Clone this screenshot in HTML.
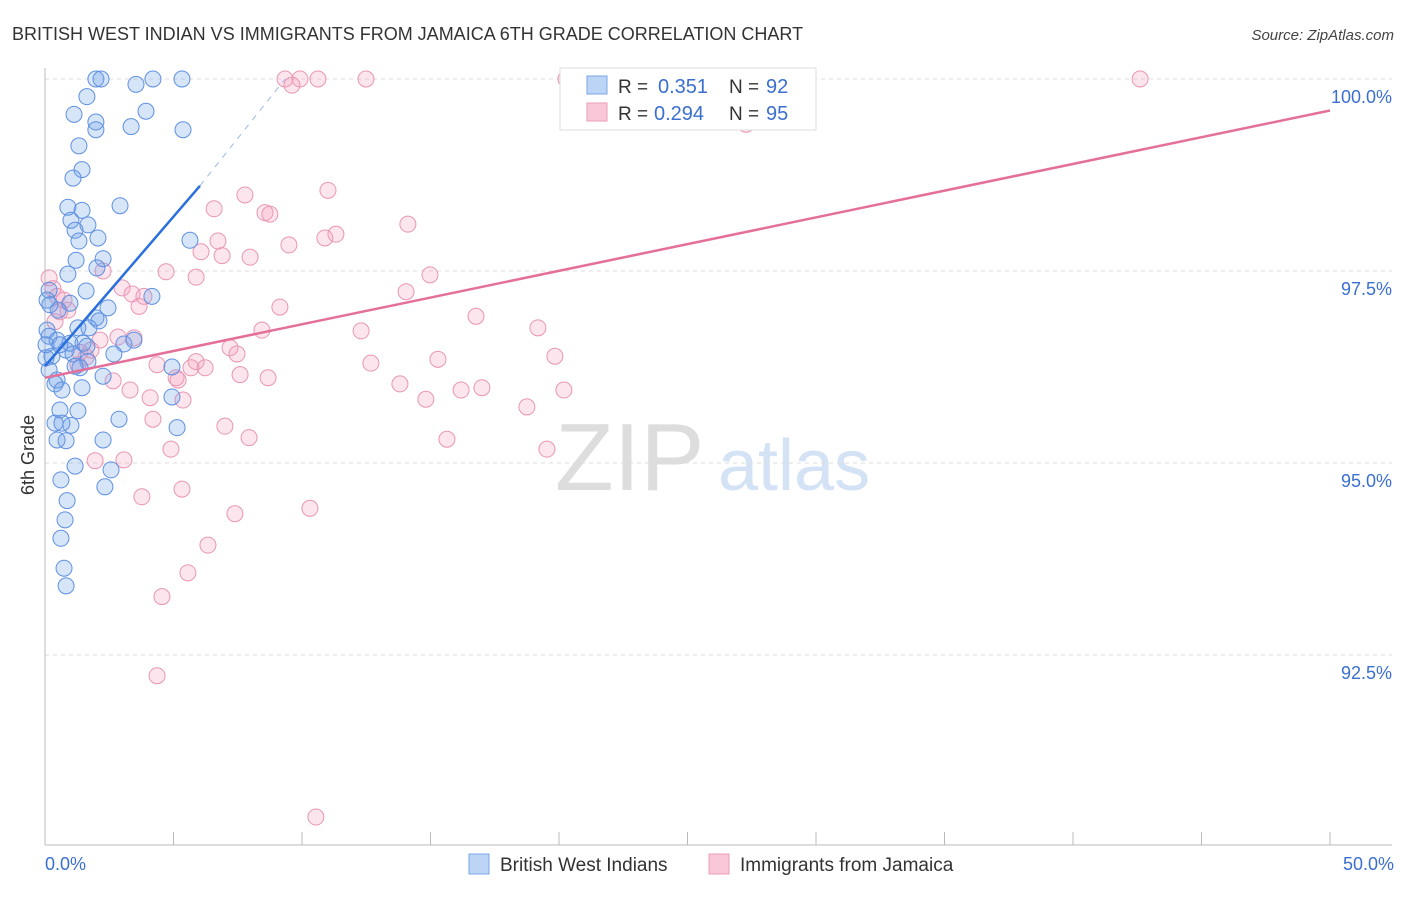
<!DOCTYPE html>
<html><head><meta charset="utf-8"><style>
body{margin:0;background:#fff;font-family:"Liberation Sans",sans-serif}
svg text{font-family:"Liberation Sans",sans-serif}
</style></head><body>
<svg width="1406" height="892" viewBox="0 0 1406 892" xmlns="http://www.w3.org/2000/svg">
<text x="12" y="40" font-size="18" fill="#333">BRITISH WEST INDIAN VS IMMIGRANTS FROM JAMAICA 6TH GRADE CORRELATION CHART</text>
<text x="1394" y="40" font-size="15" fill="#444" text-anchor="end" font-style="italic">Source: ZipAtlas.com</text>
<g><text x="555" y="490" font-size="96" fill="#ddd" font-family="Liberation Serif">ZIP</text><text x="718" y="490" font-size="72" fill="#d4e2f5">atlas</text></g>
<g id="grid"></g><g id="axes"></g><g id="pts"></g><g id="lines"></g>
<text transform="translate(34,455) rotate(-90)" font-size="18" fill="#333" text-anchor="middle">6th Grade</text>
<g>
<rect x="560" y="68" width="256" height="62" fill="#fff" stroke="#ddd"/>
<rect x="587" y="76" width="20" height="18" fill="#bcd4f5" stroke="#7aa7e8"/>
<text x="618" y="93" font-size="19" fill="#333">R =</text><text x="658" y="93" font-size="20" fill="#3a6fd0">0.351</text>
<text x="729" y="93" font-size="19" fill="#333">N =</text><text x="766" y="93" font-size="20" fill="#3a6fd0">92</text>
<rect x="587" y="103" width="20" height="18" fill="#f9c7d7" stroke="#eb9db7"/>
<text x="618" y="120" font-size="19" fill="#333">R =</text><text x="654" y="120" font-size="20" fill="#3a6fd0">0.294</text>
<text x="729" y="120" font-size="19" fill="#333">N =</text><text x="766" y="120" font-size="20" fill="#3a6fd0">95</text>
</g>
<g>
<rect x="469" y="854" width="20" height="20" fill="#bcd4f5" stroke="#7aa7e8"/>
<text x="500" y="871" font-size="19" fill="#333">British West Indians</text>
<rect x="709" y="854" width="20" height="20" fill="#f9c7d7" stroke="#eb9db7"/>
<text x="740" y="871" font-size="19" fill="#333">Immigrants from Jamaica</text>
</g>
</svg>
<script>
const yTicks=[100,97.5,95,92.5];
const yTickLabels=["100.0%","97.5%","95.0%","92.5%"];
const xTickLabels=["0.0%","50.0%"];
const blueX=[1.98,2.18,4.20,5.33,3.54,1.63,1.13,3.93,1.98,1.98,3.35,5.37,1.32,1.44,1.09,2.92,0.89,1.44,1.01,1.67,1.17,2.06,1.32,5.64,2.26,1.21,0.89,2.02,1.60,4.16,0.16,0.97,2.45,0.51,1.98,2.10,0.08,1.71,1.28,0.16,0.47,1.48,0.97,0.82,3.07,3.46,1.63,2.68,1.09,0.04,0.27,1.67,1.36,1.17,0.16,2.26,0.47,0.39,1.44,0.66,4.94,4.94,0.58,1.28,2.88,0.39,1.01,0.66,0.47,0.82,2.26,5.14,1.17,2.57,0.62,2.33,0.86,0.78,0.62,0.74,0.82,0.08,0.19,0.04,0.58];
const blueY=[100,100,100,100,99.93,99.77,99.54,99.58,99.44,99.34,99.38,99.34,99.13,98.82,98.71,98.35,98.33,98.29,98.16,98.10,98.03,97.93,97.89,97.90,97.66,97.64,97.46,97.54,97.24,97.17,97.25,97.08,97.02,96.99,96.89,96.85,96.73,96.76,96.76,96.65,96.60,96.56,96.56,96.47,96.55,96.60,96.52,96.42,96.42,96.37,96.39,96.32,96.24,96.26,96.21,96.13,96.08,96.03,95.98,95.95,96.25,95.86,95.69,95.68,95.57,95.52,95.49,95.52,95.30,95.29,95.30,95.46,94.96,94.91,94.78,94.69,94.51,94.26,94.02,93.63,93.40,97.12,97.06,96.54,96.54];
const pinkX=[9.34,9.92,10.62,12.49,20.27,25.80,42.61,9.61,27.28,7.78,11.01,6.58,8.56,8.75,14.12,11.32,10.89,6.73,9.49,6.07,6.89,7.98,0.16,2.26,4.71,5.88,14.98,3.00,0.31,0.47,3.39,3.85,14.05,3.66,9.14,0.89,0.58,16.77,19.18,8.44,12.30,0.39,2.84,3.46,2.14,7.20,7.47,1.79,1.60,19.84,15.29,4.36,5.88,6.23,5.68,12.68,1.28,5.10,7.59,8.68,2.65,3.31,4.09,5.18,5.37,13.81,16.19,17.00,20.19,14.82,18.75,4.20,7.00,15.64,7.94,19.53,4.90,3.07,1.95,3.77,5.33,10.31,7.39,6.34,5.56,4.55,4.36,10.54,0.74,1.36];
const pinkY=[100,100,100,100,100,100,100,99.92,99.41,98.49,98.55,98.31,98.26,98.24,98.11,97.98,97.93,97.89,97.84,97.75,97.70,97.68,97.41,97.50,97.49,97.42,97.45,97.28,97.27,97.17,97.20,97.17,97.23,97.04,97.03,96.99,96.97,96.91,96.76,96.73,96.72,96.84,96.64,96.63,96.60,96.50,96.42,96.47,96.38,96.39,96.35,96.28,96.32,96.24,96.24,96.30,96.28,96.11,96.15,96.11,96.07,95.95,95.85,96.08,95.82,96.03,95.95,95.98,95.95,95.83,95.73,95.57,95.48,95.31,95.33,95.18,95.18,95.04,95.03,94.56,94.66,94.41,94.34,93.93,93.57,93.26,92.23,90.39,97.12,96.44];
const blueLine=[[0,96.26],[6.03,98.61]];
const blueDash=[[6.03,98.61],[9.34,100]];
const pinkLine=[[0,96.11],[50,99.59]];
const NS="http://www.w3.org/2000/svg";
const sx=v=>45+v*25.7, sy=v=>79+(100-v)*76.8;
function mk(tag,attrs,parent){const e=document.createElementNS(NS,tag);for(const k in attrs)e.setAttribute(k,attrs[k]);document.getElementById(parent).appendChild(e);return e;}
yTicks.forEach((t,i)=>{
 const l=mk('line',{x1:45,x2:1392,y1:sy(t),y2:sy(t),stroke:'#ddd','stroke-dasharray':'4,4'},'grid');
 
 
 const tx=mk('text',{x:1392,y:sy(t)+24,'font-size':18,fill:'#3a6fd0','text-anchor':'end'},'grid');
 tx.textContent=yTickLabels[i];
 
 
});
const ax=mk('line',{x1:45,x2:45,y1:68,y2:845,stroke:'#bbb'},'axes');


const bx=mk('line',{x1:45,x2:1392,y1:845,y2:845,stroke:'#bbb'},'axes');


for(let i=0;i<=10;i++){const t=mk('line',{x1:sx(i*5),x2:sx(i*5),y1:832,y2:845,stroke:'#bbb'},'axes');
 
 }
[[0,'start'],[50,'end']].forEach((p,i)=>{const t=mk('text',{x:i?1394:45,y:870,'font-size':18,fill:'#3a6fd0','text-anchor':p[1]},'axes');t.textContent=xTickLabels[i];
 
 });
pinkX.forEach((x,i)=>{const c=mk('circle',{cx:sx(x),cy:sy(pinkY[i]),r:8,fill:'rgba(243,160,190,0.28)',stroke:'#e996b3','stroke-width':1},'pts');
 
 });
blueX.forEach((x,i)=>{const c=mk('circle',{cx:sx(x),cy:sy(blueY[i]),r:8,fill:'rgba(110,160,235,0.28)',stroke:'#5f90e0','stroke-width':1},'pts');
 
 });
function ln(d,st,dash,name){const l=mk('line',{x1:sx(d[0][0]),y1:sy(d[0][1]),x2:sx(d[1][0]),y2:sy(d[1][1]),stroke:st,'stroke-width':dash?1:2.5},'lines');if(dash)l.setAttribute('stroke-dasharray','6,6');
 
 }
ln(pinkLine,'#e4709a',false,'jamaica-trend-line');
ln(blueLine,'#2a6fdc',false,'bwi-trend-line');
ln(blueDash,'#9bb9e8',true,'bwi-trend-extension');
</script>
</body></html>
